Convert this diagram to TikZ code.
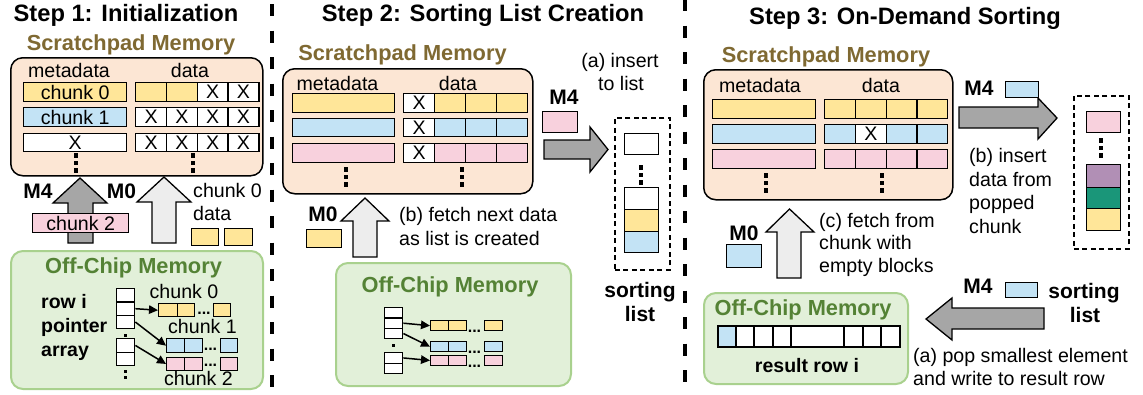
\documentclass[tikz,border=0pt]{standalone}
\usepackage{fontspec}
\setmainfont{Liberation Sans}
\usetikzlibrary{arrows.meta}
\definecolor{peach}{HTML}{FCE6D4}
\definecolor{cyel}{HTML}{FFE699}
\definecolor{cblue}{HTML}{C3E3F5}
\definecolor{cpink}{HTML}{F8D1DD}
\definecolor{cpurp}{HTML}{B18FB5}
\definecolor{cteal}{HTML}{1A9679}
\definecolor{gfill}{HTML}{E2F0D9}
\definecolor{gline}{HTML}{A9D18E}
\definecolor{gtext}{HTML}{548235}
\definecolor{spcol}{HTML}{7F6932}
\definecolor{adark}{HTML}{A6A6A6}
\definecolor{alight}{HTML}{EDEDED}
\newcommand\fbody{\fontsize{19.6}{23.5}\selectfont}
\newcommand\fbold{\fontsize{19.5}{23.5}\selectfont\bfseries}
\newcommand\flab{\fontsize{21}{25}\selectfont\bfseries}
\newcommand\fmem{\fontsize{21.8}{26}\selectfont\bfseries}
\newcommand\ftitle{\fontsize{23.7}{28}\selectfont\bfseries}
\newcommand\fdots{\fontsize{16}{18}\selectfont\bfseries}
\begin{document}
\begin{tikzpicture}[x=1pt,y=-1pt,
  title/.style={inner sep=0pt, anchor=base, font=\ftitle},
  memtitle/.style={inner sep=0pt, anchor=base, font=\fmem, text=spcol},
  offtitle/.style={inner sep=0pt, anchor=base, font=\fmem, text=gtext},
  txt/.style={inner sep=0pt, anchor=base, font=\fbody},
  txtl/.style={inner sep=0pt, anchor=base west, font=\fbody},
  bold/.style={inner sep=0pt, anchor=base west, font=\fbold},
  mlab/.style={inner sep=0pt, anchor=base, font=\flab},
  ell/.style={inner sep=0pt, anchor=base, font=\fdots},
  wh/.style 2 args={minimum width=#1, minimum height=#2},
  cell/.style={draw, line width=1.4pt, inner sep=0pt, anchor=north west, font=\fbody},
  mem/.style={draw, line width=1.5pt, rounded corners=12pt, fill=peach, anchor=north west, inner sep=0pt},
  offchip/.style={draw=gline, line width=2pt, rounded corners=12pt, fill=gfill, anchor=north west, inner sep=0pt},
  listbox/.style={draw, line width=1.5pt, dash pattern=on 5pt off 3.5pt, anchor=north west, inner sep=0pt},
  blockarrow/.style={draw, line width=1.3pt, line join=miter},
  ptr/.style={-{Triangle[length=9pt,width=8.5pt]}, line width=1.5pt},
  sep/.style={line width=3.5pt, dash pattern=on 12pt off 14.5pt},
  pics/dotcol/.style={code={\foreach \k in {0,1,2}{\fill ({-2.3},{\k*7.5}) rectangle ({2.3},{\k*7.5+4.6});}}}
]
\useasboundingbox (0,0) rectangle (1143,394);

% column separators
\draw[sep] (272,4) -- (272,394);
\draw[sep] (685,-1) -- (685,394);

% ---------------- Step 1 ----------------
\node[title] (t1) at (126,21) {Step 1: Initialization};
\node[memtitle] (s1spt) at (131,50) {Scratchpad Memory};
\node[mem, wh={252}{118}] (s1sp) at (10,57) {};
\node[txt] (s1mh) at (69,77) {metadata};
\node[txt] (s1dh) at (190,77) {data};
\node[cell, wh={103}{19}, fill=cyel] (s1m1) at (23,82) {chunk 0};
\node[cell, wh={103}{19}, fill=cblue] (s1m2) at (23,107) {chunk 1};
\node[cell, wh={103}{18.5}, fill=white] (s1m3) at (23,132.5) {X};
\foreach \f/\t [count=\i] in {cyel/{},cyel/{},white/X,white/X}
  \node[cell, wh={31}{19}, fill=\f] (s1da\i) at ({135+30.75*(\i-1)},82) {\t};
\foreach \i in {1,...,4}
  \node[cell, wh={31}{19}, fill=white] (s1db\i) at ({135+30.75*(\i-1)},107) {X};
\foreach \i in {1,...,4}
  \node[cell, wh={31}{18.5}, fill=white] (s1dc\i) at ({135+30.75*(\i-1)},132.5) {X};
\pic at (76,153) {dotcol};
\pic at (193,153) {dotcol};

% transfers between off-chip memory and scratchpad
\draw[blockarrow, fill=adark] (68,243) -- (68,203) -- (53,203) -- (80,178) -- (107,203) -- (93,203) -- (93,243) -- cycle;
\draw[blockarrow, fill=alight] (152,243) -- (152,202) -- (137,202) -- (164,177) -- (191,202) -- (176,202) -- (176,243) -- cycle;
\node[mlab] (s1m4) at (38,198) {M4};
\node[mlab] (s1m0) at (121.5,198) {M0};
\node[cell, wh={96}{19}, fill=cpink] (s1ck2) at (32,213) {chunk 2};
\node[txtl] (s1c0t) at (193,197) {chunk 0};
\node[txtl] (s1dt) at (193,220) {data};
\node[cell, wh={27}{17}, fill=cyel] (s1y1) at (191,228) {};
\node[cell, wh={28}{17}, fill=cyel] (s1y2) at (224,228) {};

% off-chip memory
\node[offchip, wh={252}{138}] (s1off) at (10,250) {};
\node[offtitle] (s1offt) at (133.5,273) {Off-Chip Memory};
\node[bold] (s1r1) at (41,308) {row i};
\node[bold] (s1r2) at (41,332) {pointer};
\node[bold] (s1r3) at (41,356) {array};
\node[cell, wh={18}{13.33}, fill=white] (s1p1) at (116,288) {};
\node[cell, wh={18}{13.33}, fill=white] (s1p2) at (116,301.33) {};
\node[cell, wh={18}{13.33}, fill=white] (s1p3) at (116,314.67) {};
\node[cell, wh={18}{13.5}, fill=white] (s1p4) at (116,338) {};
\node[cell, wh={18}{13.5}, fill=white] (s1p5) at (116,351.5) {};
\fill (123.5,334) rectangle (126.5,337);
\fill (123.5,370) rectangle (126.5,373);
\fill (123.5,375.5) rectangle (126.5,378.5);
% chunk arrays
\node[txt] (s1l0) at (184,298) {chunk 0};
\node[cell, wh={19}{13}, fill=cyel] (s1a1) at (158,303) {};
\node[cell, wh={17}{13}, fill=cyel] (s1a2) at (177,303) {};
\node[ell] (s1ae) at (204,314) {...};
\node[cell, wh={17}{13}, fill=cyel] (s1a3) at (213,303) {};
\node[txt] (s1l1) at (202.5,333) {chunk 1};
\node[cell, wh={17.5}{14}, fill=cblue] (s1b1) at (166,338) {};
\node[cell, wh={18.5}{14}, fill=cblue] (s1b2) at (183.5,338) {};
\node[ell] (s1be) at (210.5,350) {...};
\node[cell, wh={17}{14}, fill=cblue] (s1b3) at (220,338) {};
\node[cell, wh={17.5}{12.5}, fill=cpink] (s1c1) at (166,357) {};
\node[cell, wh={18.5}{12.5}, fill=cpink] (s1c2) at (183.5,357) {};
\node[ell] (s1ce) at (210.5,366) {...};
\node[cell, wh={17}{12.5}, fill=cpink] (s1c3) at (220,357) {};
\node[txt] (s1l2) at (198.5,385) {chunk 2};
\draw[ptr] (s1p2.east) -- (s1a1.west);
\draw[ptr] (s1p3.east) -- (s1b1.west);
\draw[ptr] (s1p4.east) -- (s1c1.west);

% ---------------- Step 2 ----------------
\node[title] (t2) at (483,21) {Step 2: Sorting List Creation};
\node[memtitle] (s2spt) at (402.5,60) {Scratchpad Memory};
\node[mem, wh={250}{125}] (s2sp) at (282,68) {};
\node[txt] (s2mh) at (337.5,90) {metadata};
\node[txt] (s2dh) at (458,90) {data};
\node[cell, wh={102}{18.5}, fill=cyel] (s2m1) at (292,93) {};
\node[cell, wh={102}{18.5}, fill=cblue] (s2m2) at (292,117.5) {};
\node[cell, wh={102}{18.5}, fill=cpink] (s2m3) at (292,143) {};
\foreach \f/\t [count=\i] in {white/X,cyel/{},cyel/{},cyel/{}}
  \node[cell, wh={31}{18.5}, fill=\f] (s2da\i) at ({403+31*(\i-1)},93) {\t};
\foreach \f/\t [count=\i] in {white/X,cblue/{},cblue/{},cblue/{}}
  \node[cell, wh={31}{18.5}, fill=\f] (s2db\i) at ({403+31*(\i-1)},117.5) {\t};
\foreach \f/\t [count=\i] in {white/X,cpink/{},cpink/{},cpink/{}}
  \node[cell, wh={31}{18.5}, fill=\f] (s2dc\i) at ({403+31*(\i-1)},143) {\t};
\pic at (346,167) {dotcol};
\pic at (462,167) {dotcol};

\draw[blockarrow, fill=alight] (353,257) -- (353,221) -- (341,221) -- (365,198) -- (389,221) -- (377,221) -- (377,257) -- cycle;
\node[mlab] (s2m0) at (323,221) {M0};
\node[cell, wh={35}{18}, fill=cyel] (s2y) at (306,229) {};
\node[txtl] (s2b1) at (399,221) {(b) fetch next data};
\node[txtl] (s2b2) at (399,245) {as list is created};

\node[offchip, wh={235}{123}] (s2off) at (335,262) {};
\node[offtitle] (s2offt) at (450,292) {Off-Chip Memory};
\node[cell, wh={18}{10.33}, fill=white] (s2p1) at (384,307) {};
\node[cell, wh={18}{10.33}, fill=white] (s2p2) at (384,317.33) {};
\node[cell, wh={18}{10.33}, fill=white] (s2p3) at (384,327.67) {};
\node[cell, wh={18}{10.5}, fill=white] (s2p4) at (384,352) {};
\node[cell, wh={18}{10.5}, fill=white] (s2p5) at (384,362.5) {};
\fill (391.5,343.5) rectangle (394.5,346.5);
\node[cell, wh={18}{10}, fill=cyel] (s2a1) at (430,320) {};
\node[cell, wh={18}{10}, fill=cyel] (s2a2) at (448,320) {};
\node[ell] (s2ae) at (474.5,332) {...};
\node[cell, wh={18}{10}, fill=cyel] (s2a3) at (484,320) {};
\node[cell, wh={18}{10}, fill=cblue] (s2b1c) at (430,341) {};
\node[cell, wh={18}{10}, fill=cblue] (s2b2c) at (448,341) {};
\node[ell] (s2be) at (474.5,353) {...};
\node[cell, wh={18}{10}, fill=cblue] (s2b3c) at (484,341) {};
\node[cell, wh={18}{10.5}, fill=cpink] (s2c1) at (430,354.5) {};
\node[cell, wh={18}{10.5}, fill=cpink] (s2c2) at (448,354.5) {};
\node[ell] (s2ce) at (474.5,367) {...};
\node[cell, wh={18}{10.5}, fill=cpink] (s2c3) at (484,354.5) {};
\draw[ptr] (s2p2.east) -- (s2a1.west);
\draw[ptr] (s2p3.east) -- (s2b1c.west);
\draw[ptr] (s2p4.east) -- (s2c1.west);

% insertion into the sorting list
\node[txt] (s2i1) at (620,67) {(a) insert};
\node[txt] (s2i2) at (621,90) {to list};
\node[mlab] (s2m4) at (564,104) {M4};
\node[cell, wh={35}{21}, fill=cpink] (s2pk) at (542,111) {};
\draw[blockarrow, fill=adark] (544,140) -- (590,140) -- (590,127) -- (608,149.5) -- (590,172) -- (590,159) -- (544,159) -- cycle;
\node[listbox, wh={55}{152}] (s2list) at (614,117) {};
\node[cell, wh={34}{21}, fill=white] (s2l1) at (624,133) {};
\pic at (641,165) {dotcol};
\node[cell, wh={34}{22}, fill=white] (s2l2) at (624,187) {};
\node[cell, wh={34}{22}, fill=cyel] (s2l3) at (624,209) {};
\node[cell, wh={34}{21}, fill=cblue] (s2l4) at (624,231) {};
\node[mlab] (s2s1) at (640,297) {sorting};
\node[mlab] (s2s2) at (640,321) {list};

% ---------------- Step 3 ----------------
\node[title] (t3) at (905,24) {Step 3: On-Demand Sorting};
\node[memtitle] (s3spt) at (826,62) {Scratchpad Memory};
\node[mem, wh={249}{130}] (s3sp) at (703,69) {};
\node[txt] (s3mh) at (760,92) {metadata};
\node[txt] (s3dh) at (881,92) {data};
\node[cell, wh={103}{18.5}, fill=cyel] (s3m1) at (712,99) {};
\node[cell, wh={103}{18.5}, fill=cblue] (s3m2) at (712,124) {};
\node[cell, wh={103}{18.5}, fill=cpink] (s3m3) at (712,149) {};
\foreach \i in {1,...,4}
  \node[cell, wh={30.75}{18.5}, fill=cyel] (s3da\i) at ({824+30.75*(\i-1)},99) {};
\foreach \f/\t [count=\i] in {cblue/{},white/X,cblue/{},cblue/{}}
  \node[cell, wh={30.75}{18.5}, fill=\f] (s3db\i) at ({824+30.75*(\i-1)},124) {\t};
\foreach \i in {1,...,4}
  \node[cell, wh={30.75}{18.5}, fill=cpink] (s3dc\i) at ({824+30.75*(\i-1)},149) {};
\pic at (766,173) {dotcol};
\pic at (882,173) {dotcol};

% (b) insert data from the popped chunk
\node[mlab] (s3m4a) at (979,95) {M4};
\draw[blockarrow, fill=adark] (959,107) -- (1038,107) -- (1038,98) -- (1057,118) -- (1038,139) -- (1038,128) -- (959,128) -- cycle;
\node[cell, wh={33}{16}, fill=cblue] (s3ba) at (1005,81) {};
\node[txtl] (s3b1) at (969,162) {(b) insert};
\node[txtl] (s3b2) at (969,186) {data from};
\node[txtl] (s3b3) at (969,209) {popped};
\node[txtl] (s3b4) at (969,233) {chunk};
\node[listbox, wh={55}{153}] (s3list) at (1073,95) {};
\node[cell, wh={34}{21}, fill=cpink] (s3l1) at (1086,111) {};
\pic at (1101,138) {dotcol};
\node[cell, wh={34}{23}, fill=cpurp] (s3l2) at (1086,164) {};
\node[cell, wh={34}{21}, fill=cteal] (s3l3) at (1086,187) {};
\node[cell, wh={34}{22}, fill=cyel] (s3l4) at (1086,208) {};

% (a) pop smallest element
\node[mlab] (s3m4b) at (978,293) {M4};
\node[cell, wh={32}{15}, fill=cblue] (s3bb) at (1005,282) {};
\node[mlab] (s3s1) at (1084,298) {sorting};
\node[mlab] (s3s2) at (1085,322) {list};
\draw[blockarrow, fill=adark] (1044,308) -- (952,308) -- (952,298) -- (926,319) -- (952,340) -- (952,329) -- (1044,329) -- cycle;
\node[txtl] (s3a1) at (913,362) {(a) pop smallest element};
\node[txtl] (s3a2) at (913,385) {and write to result row};

% (c) fetch from chunk with empty blocks
\draw[blockarrow, fill=alight] (777,278) -- (777,232) -- (766,232) -- (789.5,209) -- (814,232) -- (801,232) -- (801,278) -- cycle;
\node[mlab] (s3m0) at (744,240) {M0};
\node[cell, wh={35}{23}, fill=cblue] (s3bc) at (726,244) {};
\node[txtl] (s3c1) at (819,227) {(c) fetch from};
\node[txtl] (s3c2) at (819,249.5) {chunk with};
\node[txtl] (s3c3) at (819,272) {empty blocks};

\node[offchip, wh={204}{91}] (s3off) at (703,292) {};
\node[offtitle] (s3offt) at (803,315) {Off-Chip Memory};
\foreach \xa/\xb/\f [count=\i] in {717/735/cblue,735/753/white,753/772/white,772/790/white,790/843/white,843/862/white,862/880/white,880/899/white}
  \node[cell, line width=2.3pt, wh={\xb-\xa}{21}, fill=\f] (s3r\i) at (\xa,325) {};
\node[txt, font=\fbold] (s3rt) at (807,372) {result row i};
\end{tikzpicture}
\end{document}
